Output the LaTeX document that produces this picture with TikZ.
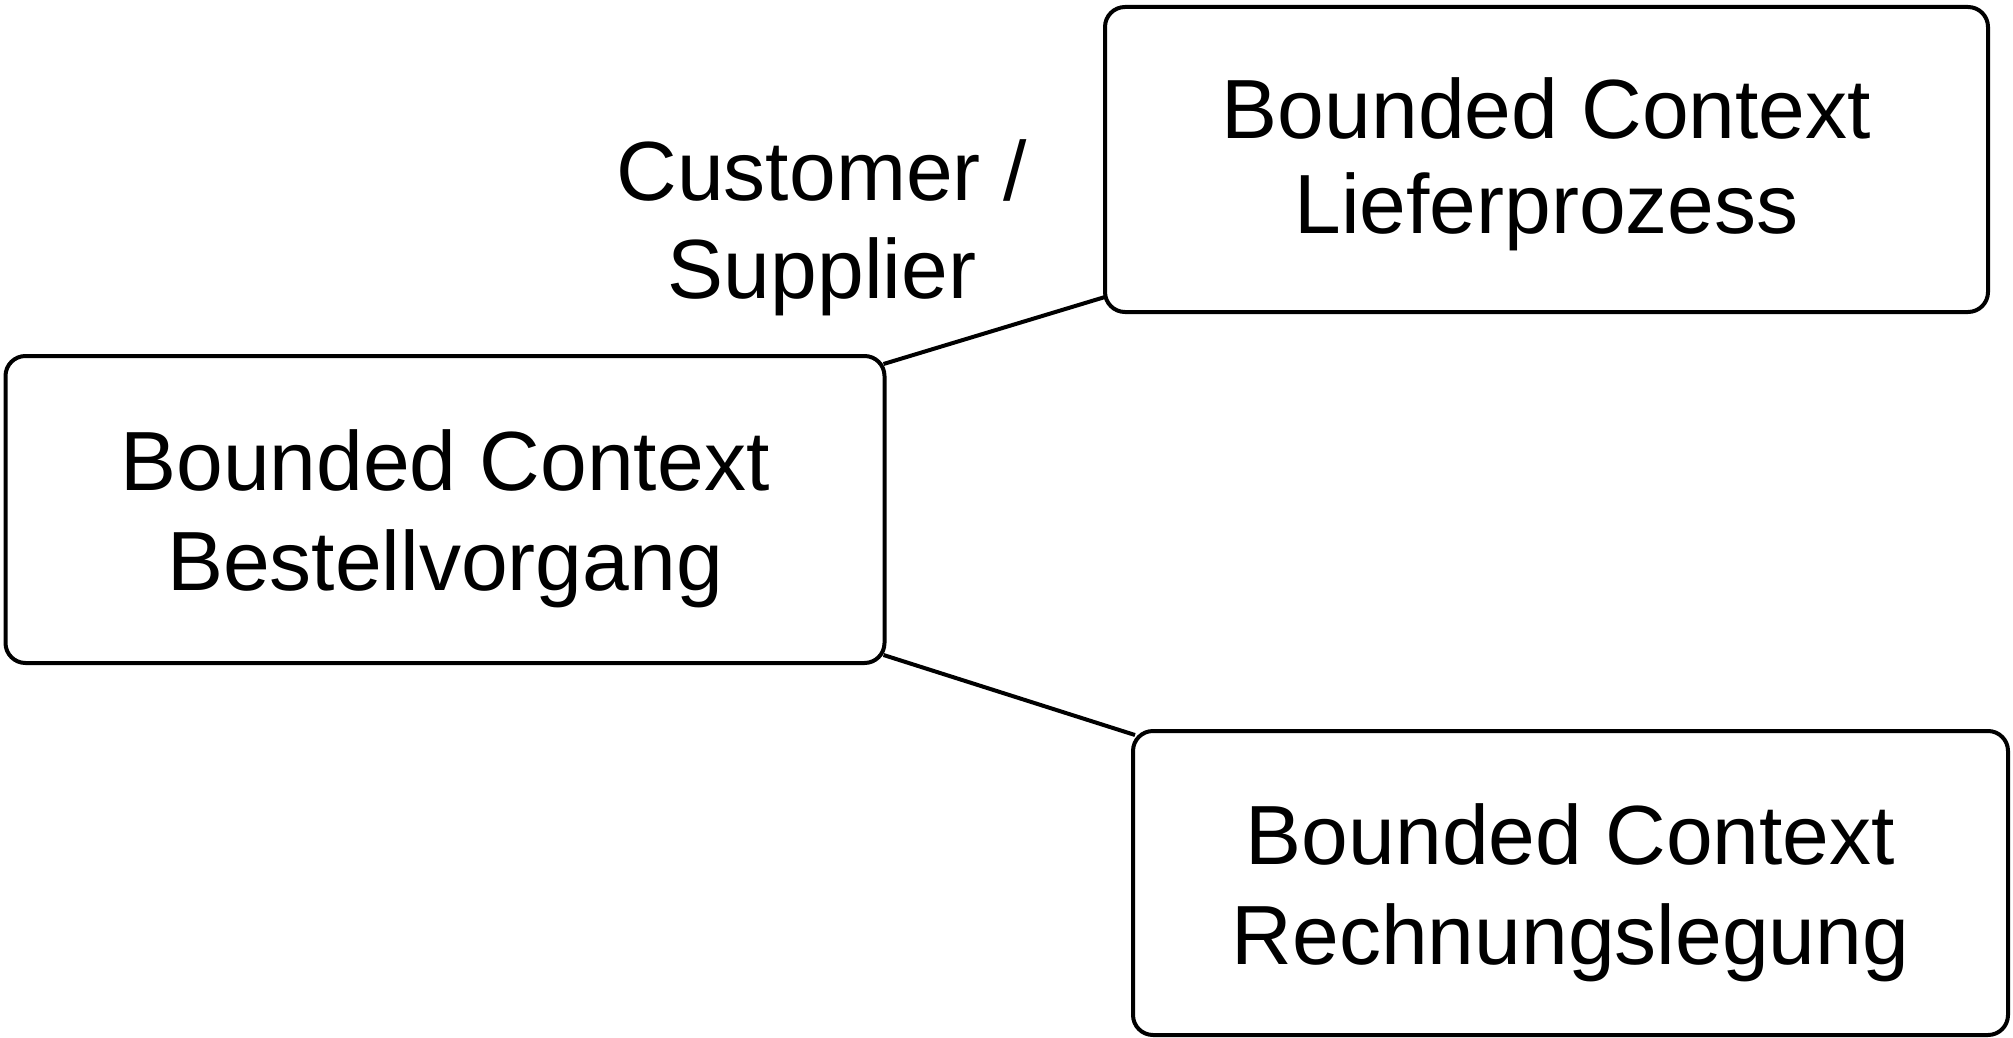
\documentclass[tikz,border=0pt]{standalone}
\usepackage{fontspec}
\setmainfont{Liberation Sans}
\begin{document}
\begin{tikzpicture}[x=1pt,y=-1pt,
  ctxbox/.style={draw=black, line width=4pt, rounded corners=20pt, fill=white,
    inner sep=0pt, align=center, font=\fontsize{84}{100}\selectfont},
  conn/.style={draw=black, line width=4pt},
  lbl/.style={inner sep=0pt, align=center, font=\fontsize{84}{98}\selectfont}]
\useasboundingbox (0,0) rectangle (2013,1038);
\node[ctxbox, minimum width=879pt, minimum height=307pt] (a) at (445,509.5)
  {\rule{0pt}{80pt}Bounded Context\\Bestellvorgang};
\node[ctxbox, minimum width=883pt, minimum height=305pt, font=\fontsize{84}{95}\selectfont] (b) at (1546.5,159.5)
  {\rule{0pt}{70pt}Bounded Context\\Lieferprozess};
\node[ctxbox, minimum width=875pt, minimum height=304pt] (c) at (1570.5,883)
  {\rule{0pt}{80pt}Bounded Context\\Rechnungslegung};
\node[lbl] (l) at (822,228) {Customer /\\Supplier};
\draw[conn] ([xshift=-3pt,yshift=-10pt]a.north east) -- ([xshift=2pt,yshift=17pt]b.south west);
\draw[conn] ([xshift=-3pt,yshift=10pt]a.south east) -- ([xshift=4pt,yshift=-6pt]c.north west);
\end{tikzpicture}
\end{document}
